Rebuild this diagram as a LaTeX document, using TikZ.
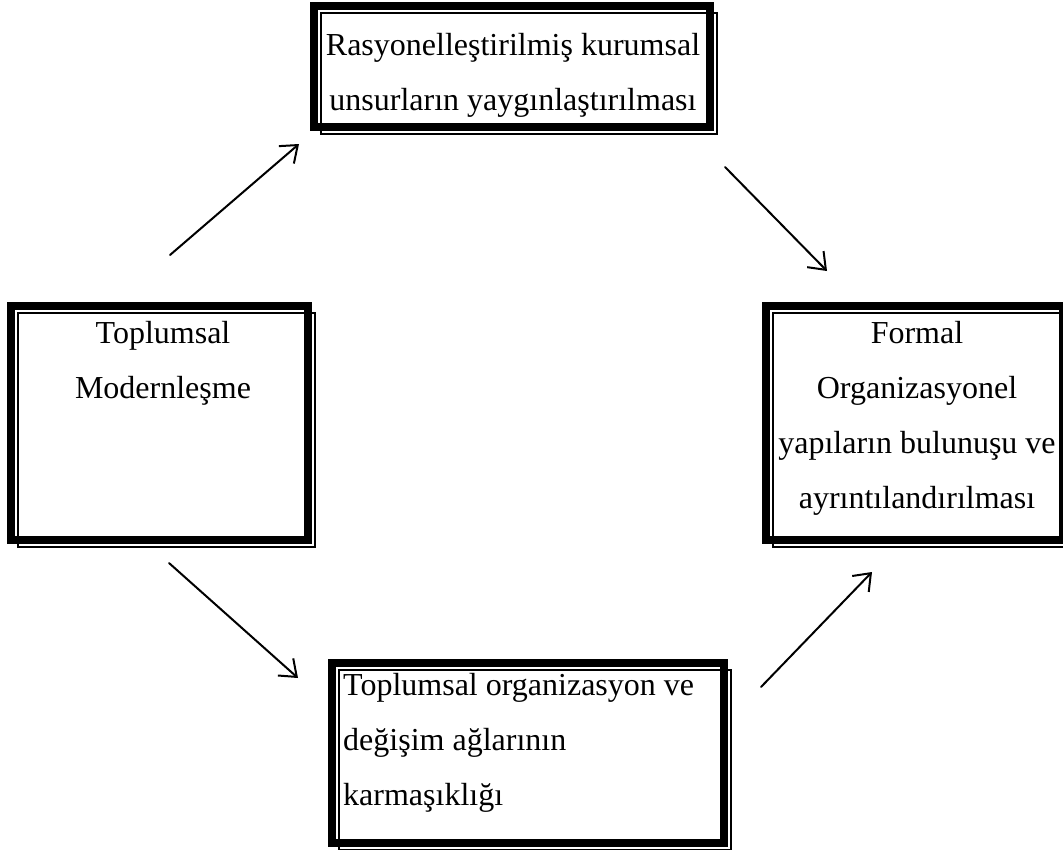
\documentclass[tikz,border=0pt]{standalone}
\usepackage{fontspec}
\setmainfont{Liberation Serif}
\usetikzlibrary{arrows.meta}
\newcommand\wordframe[4]{%
  \draw[thickband] (#1+4,#2+4) rectangle (#3-8,#4-8);
  \draw[thinline] (#1+10.8,#2+10.8) rectangle (#3-0.8,#4-0.8);}
\begin{document}
\begin{tikzpicture}[x=1pt,y=-1pt,
  boxtext/.style={inner sep=0pt, font=\fontsize{32}{55}\selectfont},
  thickband/.style={line width=8pt},
  thinline/.style={line width=1.6pt},
  link/.style={line width=2pt, line cap=round, -{Straight Barb[length=15pt,width=23pt]}}]
\useasboundingbox (0,0) rectangle (1063,849);
\clip (0,0) rectangle (1063,849);
% frames
\wordframe{310}{2}{718}{135}
\wordframe{7}{302}{316}{548}
\wordframe{762}{302}{1071}{548}
\wordframe{328}{659}{732}{851}
% texts
\node[boxtext, text width=400pt, align=flush center, anchor=base] (rat) at (513,55)
  {Rasyonelleştirilmiş kurumsal\\unsurların yaygınlaştırılması};
\node[boxtext, text width=289pt, align=flush center, anchor=base] (mod) at (163,343)
  {Toplumsal\\Modernleşme};
\node[boxtext, text width=289pt, align=flush center, anchor=base] (form) at (917,343)
  {Formal\\Organizasyonel\\yapıların bulunuşu ve\\ayrıntılandırılması};
\node[boxtext, text width=380pt, align=flush left, anchor=base west] (kar) at (343,695)
  {Toplumsal organizasyon ve\\değişim ağlarının\\karmaşıklığı};
% arrows
\coordinate (a1s) at (170,255);
\coordinate (a1e) at (299,144);
\coordinate (a2s) at (725,167);
\coordinate (a2e) at (827,271);
\coordinate (a3s) at (169,563);
\coordinate (a3e) at (298,678);
\coordinate (a4s) at (761,687);
\coordinate (a4e) at (872,572);
\draw[link] (a1s) -- (a1e);
\draw[link] (a2s) -- (a2e);
\draw[link] (a3s) -- (a3e);
\draw[link] (a4s) -- (a4e);
\end{tikzpicture}
\end{document}
